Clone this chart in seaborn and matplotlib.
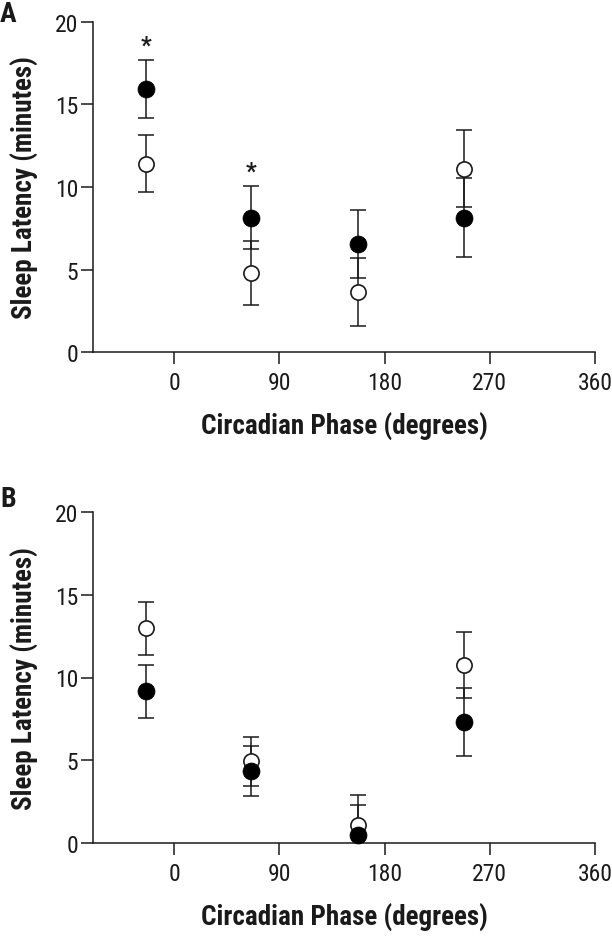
import numpy as np
import pandas as pd
import matplotlib
matplotlib.use("Agg")
import matplotlib.pyplot as plt
import seaborn as sns
from matplotlib import font_manager

# ---- data ----
phase = [-24, 66, 157, 248]
a_filled = [15.95, 8.15, 6.55, 8.15]
a_filled_err = [1.75, 1.9, 2.03, 2.37]
a_open = [11.4, 4.8, 3.67, 11.1]
a_open_err = [1.73, 1.92, 2.05, 2.33]
b_filled = [9.17, 4.37, 0.48, 7.3]
b_filled_err = [1.6, 1.5, 1.82, 2.05]
b_open = [12.97, 4.93, 1.1, 10.76]
b_open_err = [1.6, 1.5, 1.82, 2.0]
xticks = [0, 90, 180, 270, 360]
yticks = [0, 5, 10, 15, 20]
star_x = [-24, 66]
star_y = [18.2, 10.6]
panel_letters = ["A", "B"]
xlabel = "Circadian Phase (degrees)"
ylabel = "Sleep Latency (minutes)"

sns.set_theme(style="ticks")

# choose a condensed sans family with static regular and bold files
weights = {}
for f in font_manager.fontManager.ttflist:
    if "[" in f.fname:
        continue
    weights.setdefault(f.name, set()).add(int(f.weight) if str(f.weight).isdigit() else f.weight)
prefs = ["Liberation Sans Narrow", "Arial Narrow", "Roboto Condensed", "PT Sans Narrow",
         "IBM Plex Sans Condensed", "Fira Sans Condensed", "Open Sans Condensed",
         "Encode Sans Condensed", "Asap Condensed"]
fam = "Liberation Sans"
for p in prefs:
    w = weights.get(p, set())
    if 400 in w and 700 in w:
        fam = p
        break
plt.rcParams["font.family"] = [fam, "DejaVu Sans"]

W, H = 612, 937
fig = plt.figure(figsize=(W / 100, H / 100), dpi=100)

ink = "#1a1a1a"

def panel(top_px, bottom_px, filled, filled_err, opn, opn_err, stars):
    left_px, right_px = 93.3, 595
    ax = fig.add_axes([left_px / W, 1 - bottom_px / H,
                       (right_px - left_px) / W, (bottom_px - top_px) / H])
    df_open = pd.DataFrame({"phase": phase, "lat": opn})
    df_fill = pd.DataFrame({"phase": phase, "lat": filled})
    ax.errorbar(phase, opn, yerr=opn_err, fmt="none", ecolor=ink,
                elinewidth=1.1, capsize=5.6, capthick=1.1, zorder=2)
    ax.errorbar(phase, filled, yerr=filled_err, fmt="none", ecolor=ink,
                elinewidth=1.1, capsize=5.6, capthick=1.1, zorder=2)
    sns.scatterplot(data=df_open, x="phase", y="lat", ax=ax, marker="o", s=120,
                    color="white", edgecolor=ink, linewidth=1.2, zorder=3, clip_on=False)
    sns.scatterplot(data=df_fill, x="phase", y="lat", ax=ax, marker="o", s=150,
                    color="black", edgecolor="black", linewidth=0.5, zorder=4, clip_on=False)
    if stars:
        for sx, sy in zip(star_x, star_y):
            ax.text(sx, sy, "*", ha="center", va="baseline", fontsize=17,
                    fontweight="bold", color=ink)
    ax.set_xlim(-69.3, 360)
    ax.set_ylim(0, 20)
    ax.set_xticks(xticks)
    ax.set_yticks(yticks)
    ax.set_xticklabels([str(t) for t in xticks])
    ax.set_yticklabels([str(t) for t in yticks])
    sns.despine(ax=ax)
    for s in ["left", "bottom"]:
        ax.spines[s].set_linewidth(1.1)
        ax.spines[s].set_color(ink)
    ax.tick_params(axis="both", length=8.5, width=1.1, color=ink, labelsize=17,
                   labelcolor=ink)
    ax.tick_params(axis="y", pad=2.5)
    ax.tick_params(axis="x", pad=5)
    ax.set_xlabel(xlabel, fontsize=19.5, fontweight="bold", color=ink)
    ax.set_ylabel(ylabel, fontsize=19.5, fontweight="bold", color=ink)
    ax.xaxis.set_label_coords(0.5, -0.18)
    ax.yaxis.set_label_coords(-0.108, 0.5)
    return ax

panel(22.7, 353.3, a_filled, a_filled_err, a_open, a_open_err, True)
panel(513, 844, b_filled, b_filled_err, b_open, b_open_err, False)

fig.text(0.0, 1 - 22 / H, panel_letters[0], ha="left", va="baseline", fontsize=20,
         fontweight="bold", color=ink)
fig.text(0.0, 1 - 507 / H, panel_letters[1], ha="left", va="baseline", fontsize=20,
         fontweight="bold", color=ink)

fig.savefig("out.png", dpi=100)
